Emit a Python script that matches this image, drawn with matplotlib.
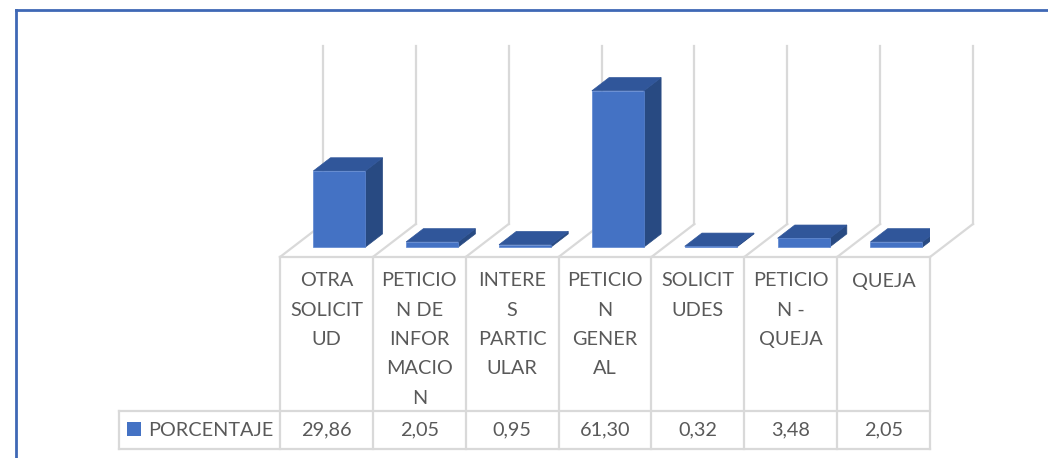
import matplotlib
import matplotlib.pyplot as plt
from matplotlib.patches import Polygon, Rectangle

matplotlib.rcParams['font.family'] = ['Lato', 'DejaVu Sans']

# data
categories = ["OTRA\nSOLICIT\nUD", "PETICIO\nN DE\nINFOR\nMACIO\nN", "INTERE\nS\nPARTIC\nULAR",
              "PETICIO\nN\nGENER\nAL", "SOLICIT\nUDES", "PETICIO\nN -\nQUEJA", "QUEJA"]
values = [29.86, 2.05, 0.95, 61.30, 0.32, 3.48, 2.05]
value_labels = ["29,86", "2,05", "0,95", "61,30", "0,32", "3,48", "2,05"]
series_name = "PORCENTAJE"
ymax = 70

W, H = 1048, 458
PXU = 2.55          # pixels per value unit
CELL = 650 / 7.0    # pixels per category
DX = 43 / CELL      # depth offset in category units
DY = 33 / PXU       # depth offset in value units

front = '#4472C4'
top_c = '#30569A'
side_c = '#284A82'
grid_c = '#D9D9D9'
txt_c = '#595959'
fs = 14.3

fig = plt.figure(figsize=(W / 100, H / 100), dpi=100)

# frame / table layer in pixel coords
base = fig.add_axes([0, 0, 1, 1])
base.set_xlim(0, W)
base.set_ylim(H, 0)
base.axis('off')

# chart layer: x in categories, y in values
ax = fig.add_axes([280 / W, (H - 257) / H, 650 / W, 257 / H])
ax.set_xlim(0, 7)
ax.set_ylim(0, 257 / PXU)
ax.axis('off')

n = len(values)
# back wall lines and floor diagonals
for i in range(n + 1):
    ax.plot([i + DX, i + DX], [DY, DY + ymax], color=grid_c, lw=1.6, clip_on=False, zorder=1)
    ax.plot([i, i + DX], [0, DY], color=grid_c, lw=1.6, clip_on=False, zorder=1)

# 3d bars
bw = 0.56
d0, d1 = 0.3, 0.7
for i, v in enumerate(values):
    x0 = i + 0.5 - bw / 2
    x1 = x0 + bw
    fx, fy = d0 * DX, d0 * DY
    bx, by = d1 * DX, d1 * DY
    ax.add_patch(Polygon([(x1 + fx, fy), (x1 + bx, by), (x1 + bx, by + v), (x1 + fx, fy + v)],
                         closed=True, fc=side_c, ec=side_c, lw=0.5, zorder=3))
    ax.add_patch(Polygon([(x0 + fx, fy + v), (x1 + fx, fy + v), (x1 + bx, by + v), (x0 + bx, by + v)],
                         closed=True, fc=top_c, ec=top_c, lw=0.5, zorder=3))
    ax.add_patch(Rectangle((x0 + fx, fy), bw, v, fc=front, ec='#5B85D0', lw=0.5, zorder=4))

# data table
x_left = 280
tab_top, row_top, tab_bot = 257, 411, 449
leg_left = 119
for i in range(n + 1):
    x = x_left + i * CELL
    base.plot([x, x], [tab_top, tab_bot], color=grid_c, lw=1.6)
base.plot([leg_left, leg_left], [row_top, tab_bot], color=grid_c, lw=1.6)
base.plot([x_left, x_left + n * CELL], [tab_top, tab_top], color=grid_c, lw=1.6)
base.plot([leg_left, x_left + n * CELL], [row_top, row_top], color=grid_c, lw=1.6)
base.plot([leg_left, x_left + n * CELL], [tab_bot, tab_bot], color=grid_c, lw=1.6)

for i, (lab, vl) in enumerate(zip(categories, value_labels)):
    cx = x_left + (i + 0.5) * CELL
    for k, line in enumerate(lab.split('\n')):
        base.text(cx, 281 + k * 29.3, line, ha='center', va='center', fontsize=fs, color=txt_c)
    base.text(cx, 430, vl, ha='center', va='center', fontsize=fs, color=txt_c)

base.add_patch(Rectangle((127, 422), 14, 14, fc=front, ec='none'))
base.text(148, 430, series_name, ha='left', va='center', fontsize=fs, color=txt_c)

# outer border (top + left)
base.plot([16, W], [10, 10], color='#3F68B5', lw=2)
base.plot([16, 16], [10, H], color='#3F68B5', lw=2)

fig.savefig("out.png", dpi=100)
